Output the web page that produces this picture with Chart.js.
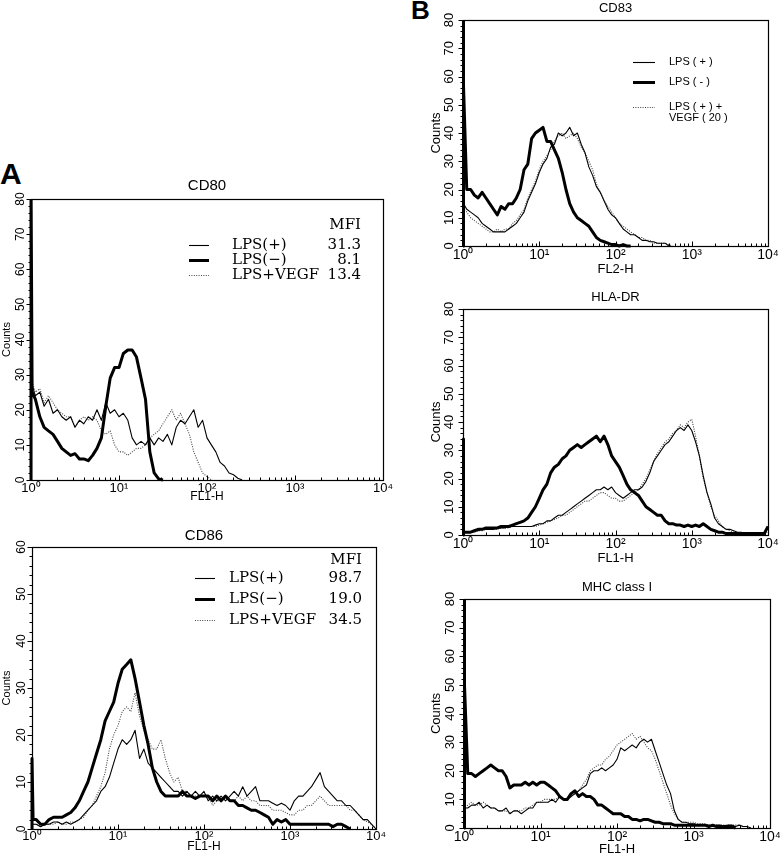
<!DOCTYPE html>
<html><head><meta charset="utf-8">
<script src="https://cdn.jsdelivr.net/npm/chart.js@4.4.1/dist/chart.umd.min.js"></script>
<style>
html,body{margin:0;padding:0;background:#fff;width:780px;height:861px;overflow:hidden;position:relative;}
canvas{position:absolute;}
.lab{position:absolute;font-family:'Liberation Sans',Arial,sans-serif;font-weight:bold;color:#000;line-height:1;}
</style></head><body>
<div class="lab" style="left:0px;top:159px;font-size:30px;">A</div>
<div class="lab" style="left:411px;top:-3px;font-size:26px;">B</div>
<canvas id="cCD80" width="398" height="335" style="left:0px;top:170px;"></canvas>
<canvas id="cCD86" width="392" height="341" style="left:0px;top:520px;"></canvas>
<canvas id="cCD83" width="382" height="280" style="left:400px;top:0px;"></canvas>
<canvas id="cHLA" width="382" height="288" style="left:400px;top:283px;"></canvas>
<canvas id="cMHC" width="384" height="288" style="left:400px;top:573px;"></canvas>
<script>
// ---------- data ----------
// first channel listed twice: the histogram baseline (0) and the first-channel count
const channels = [1, 1, 1.03, 1.12, 1.26, 1.41, 1.58, 1.78, 2, 2.24, 2.51, 2.82, 3.16, 3.55, 3.98, 4.47, 5.01, 5.62, 6.31, 7.08, 7.94, 8.91,
  10, 11.2, 12.6, 14.1, 15.8, 17.8, 20, 22.4, 25.1, 28.2, 31.6, 35.5, 39.8, 44.7, 50.1, 56.2, 63.1, 70.8, 79.4, 89.1,
  100, 112, 126, 141, 158, 178, 200, 224, 251, 282, 316, 355, 398, 447, 501, 562, 631, 708, 794, 891,
  1000, 1122, 1259, 1413, 1585, 1778, 1995, 2239, 2512, 2818, 3162, 3548, 3981, 4467, 5012, 5623, 6310, 7079, 7943, 8913,
  10000];
const decadeValues = [1, 10, 100, 1000, 10000];
const xTickLabels = ['10⁰', '10¹', '10²', '10³', '10⁴'];

const legendLabelsA = ['LPS(+)', 'LPS(−)', 'LPS+VEGF'];
const legendLabelsB = ['LPS ( + )', 'LPS ( - )', 'LPS ( + ) +\nVEGF ( 20 )'];
const cd80Mfi = ['31.3', '8.1', '13.4'];
const cd86Mfi = ['98.7', '19.0', '34.5'];

// CD80
const cd80LpsPos = [0, 28, 27,
  24, 25, 21, 23, 19, 20, 18, 17, 18, 15,
  17, 16, 18, 17, 20, 17, 22, 19, 20, 18,
  19, 17, 12, 10, 11, 10, 12, 10, 12, 11,
  13, 10, 15, 17, 16, 18, 20, 15, 17, 12,
  10, 8, 5, 4, 2, 1.5, 0.5, 0];
const cd80LpsNeg = [0, 85, 25,
  23, 18, 15, 14, 13, 11, 9, 8, 7, 7.5,
  6, 6, 5.5, 7, 9, 12, 21, 29, 32, 32,
  36, 37, 37, 35, 29, 23, 8, 2, 0.3, 0];
const cd80Vegf = [0, 29, 28,
  25, 26, 22, 24, 22, 20, 19, 18, 18, 15,
  17, 18, 17, 18, 17, 14, 13, 14, 10, 8,
  8, 7, 8, 9, 9, 10, 12, 13, 14, 16,
  18, 20, 17, 19, 16, 13, 8, 5, 2, 1,
  0];

// CD86
const cd86LpsPos = [0, 1, 1,
  1, 0.5, 1, 1, 1.5, 1.5, 1, 1.5, 1, 1.5,
  2, 3, 4, 5, 6, 8, 9, 11, 14, 17,
  19, 18, 19, 21, 15, 17, 14, 13, 12, 11,
  10, 9, 8, 8, 7, 8, 7, 8, 7, 8,
  6, 7, 6, 7, 6, 7, 8, 7, 9, 7,
  8, 9, 6, 6, 6, 5.5, 5, 5.5, 5, 4,
  6, 7, 7, 8, 9, 10.5, 12, 9, 8, 7,
  6, 6, 5, 5, 4, 3, 2, 2, 1, 0];
const cd86LpsNeg = [0, 15, 2,
  2, 1, 1, 2, 2.5, 2.5, 2.5, 3, 3.5, 4.5,
  6, 8, 10, 13, 16, 19, 23, 25, 27, 31,
  34, 35, 36, 32, 27, 22, 18, 13, 10, 8,
  7, 7, 7, 7, 8, 7, 7, 6.5, 7, 7,
  7, 6, 7, 6, 7, 6, 6, 5, 5, 4.5,
  4, 4, 3.5, 3, 2.5, 1, 2, 1.5, 2, 1,
  1, 1, 1, 1, 1, 1, 1, 1, 1, 0.5,
  1, 1, 0.5, 0];
const cd86Vegf = [0, 1, 1,
  1, 0.5, 1, 1, 1, 1.5, 1, 1, 1.5, 1.5,
  2, 2.5, 4, 5, 7, 9, 12, 17, 20, 22,
  25, 26, 25, 29, 24, 21, 19, 17, 17, 19,
  15, 12, 10, 11, 8, 8, 7, 7, 7, 7,
  7, 5, 6, 6, 7, 6, 6, 7, 6, 7,
  6, 6, 5, 5, 5, 4, 4, 4, 3.5, 3,
  3, 4, 4, 5, 5, 6, 7, 6, 5, 5,
  5, 5, 5, 4, 4, 3, 2, 1.5, 1, 0];

// CD83
const cd83LpsPos = [0, 16, 15,
  13, 12, 11, 10, 8, 7, 6, 5, 5, 5,
  5, 6, 7, 8, 10, 12, 16, 19, 22, 26,
  29, 31, 35, 36, 40, 39, 40, 42, 39, 40,
  36, 33, 28, 25, 21, 19, 16, 13, 11, 10,
  8, 6, 5, 4, 4, 3, 2, 2, 1.5, 1.5,
  1, 1, 1, 0];
const cd83LpsNeg = [0, 85, 57,
  20, 20, 18, 17, 19, 17, 15, 13, 11, 14,
  13, 15, 15, 17, 20, 27, 29, 38, 40, 41,
  42, 37, 37, 34, 31, 26, 20, 15, 12, 10,
  9, 8, 7, 5, 3, 2, 1.5, 1, 0.5, 0.5,
  0, 0.5, 0, 0];
const cd83Vegf = [0, 14, 13,
  12, 10, 9, 8, 7, 6, 5, 5, 6, 5,
  6, 6, 8, 9, 11, 13, 17, 20, 23, 27,
  30, 32, 34, 37, 39, 40, 38, 39, 40, 38,
  35, 33, 30, 27, 22, 19, 16, 14, 12, 10,
  8, 7, 6, 5, 4, 3, 3, 2, 2, 1,
  1, 1, 1, 0.5, 0];

// HLA-DR
const hlaLpsPos = [0, 20, 1,
  1, 1, 1.5, 1.5, 2, 2, 2, 2, 2.5, 2.5,
  2.5, 3, 3, 3, 3, 3, 3, 3, 3.5, 4,
  4, 5, 5, 6, 7, 7, 8, 9, 10, 11,
  12, 13, 14, 15, 16, 16, 17, 16, 17, 15,
  14, 13, 14, 15, 16, 16, 17, 19, 22, 26,
  28, 30, 32, 33, 35, 37, 38, 37, 39, 37,
  33, 28, 21, 15, 11, 6, 4, 3, 2, 2,
  1.5, 1, 1, 0.5, 0.5, 0.5, 0.5, 0.5, 0.5, 3];
const hlaLpsNeg = [0, 34, 1,
  1, 1, 1.5, 2, 2, 2.5, 2.5, 2.5, 2.5, 3,
  3, 3, 3.5, 4, 4.5, 5, 6, 8, 10, 13,
  16, 18, 22, 24, 25, 27, 28, 30, 31, 32,
  31, 32, 33, 34, 35, 33, 35, 32, 28, 26,
  24, 21, 18, 16, 15, 14, 12, 10, 9, 8,
  7, 7, 5, 4, 4, 3.5, 3.5, 3, 3.5, 3,
  3.5, 3, 4, 3, 2, 1.5, 1, 1, 0.5, 0.5,
  0.5, 0.5, 0.5, 0.5, 0.5, 0.5, 0.5, 0.5, 0.5, 3];
const hlaVegf = [0, 2, 1,
  1, 1, 1, 1.5, 1.5, 2, 2, 2, 2, 2.5,
  2.5, 2.5, 3, 3, 3, 3, 3, 3, 3, 3.5,
  4, 4.5, 5, 5.5, 6, 7, 7, 8, 9, 10,
  11, 12, 12, 13, 14, 15, 15, 14, 13, 13,
  12, 12, 13, 14, 15, 16, 18, 20, 23, 26,
  29, 31, 33, 34, 36, 37, 39, 38, 40, 41,
  35, 28, 20, 15, 10, 7, 5, 3, 2, 1.5,
  1, 0.5, 0.5, 0.5, 0.5, 0.5, 0.5, 0.5, 0.5, 1];

// MHC class I
const mhcLpsPos = [0, 8, 7,
  7, 8, 8, 9, 7, 8, 7, 7, 6, 6,
  7, 5, 6, 6, 5, 6, 7, 7, 9, 9,
  9, 9, 10, 9, 11, 10, 10, 11, 12, 13,
  14, 15, 19, 20, 20, 21, 20, 21, 22, 24,
  28, 27, 28, 29, 28, 30, 31, 30, 31, 27,
  23, 19, 15, 12, 6, 3, 2, 2, 1.5, 1.5,
  1, 1, 1, 1, 0.5, 1, 1, 0.5, 1, 1,
  0.5, 1, 0.5, 0.5, 0];
const mhcLpsNeg = [0, 85, 50,
  19, 19, 18, 19, 20, 21, 22, 21, 20, 20,
  18, 14, 15, 15, 15, 16, 15, 16, 15, 16,
  16, 15, 14, 13, 11, 10, 10, 12, 13, 11,
  12, 11, 11, 10, 8, 8, 7, 6, 5, 5,
  5, 4, 4, 3, 3, 2.5, 3, 3, 2.5, 2,
  2, 1.5, 1.5, 1.5, 1, 1, 1, 1, 1, 1,
  1, 1, 1, 0.5, 1, 0.5, 0.5, 0.5, 0.5, 0.5,
  0];
const mhcVegf = [0, 7, 7,
  8, 9, 8, 8, 9, 8, 7, 7, 6, 6,
  6, 5, 6, 6, 6, 7, 7, 8, 9, 9,
  10, 10, 10, 10, 11, 10, 10, 11, 12, 13,
  15, 17, 20, 21, 22, 22, 24, 25, 27, 29,
  30, 31, 32, 33, 31, 32, 30, 28, 27, 24,
  20, 16, 12, 8, 5, 3, 2, 2, 2, 2,
  1.5, 1.5, 1.5, 1, 1, 1, 1, 1, 1, 1,
  1, 1, 0.5, 0.5, 0];

// ---------- styles / layout ----------
const STYLE = {
  pos:  {width: 1.1, color: '#000', dash: [], order: 1},
  neg:  {width: 3, color: '#000', dash: [], order: 0},
  vegf: {width: 1.1, color: '#444', dash: [1, 1.4], order: 2}
};
const SANS = "'Liberation Sans', Arial, sans-serif";
const SERIF = "'DejaVu Serif', 'Liberation Serif', serif";

const xMinorTicks = [];
decadeValues.forEach((d, i) => {
  if (i === decadeValues.length - 1) { xMinorTicks.push(d); return; }
  for (let m = 1; m < 10; m++) xMinorTicks.push(Math.round(d * m));
});

const fcsFrame = {
  id: 'fcsFrame',
  afterDatasetsDraw(chart) {
    const {ctx, chartArea: a, scales: {x, y}} = chart;
    ctx.save();
    ctx.strokeStyle = '#000';
    ctx.lineWidth = 1.2;
    const L = Math.round(a.left) + 0.5, T = Math.round(a.top) + 0.5;
    const R = Math.round(a.right) + 0.5, B = Math.round(a.bottom) + 0.5;
    ctx.strokeRect(L, T, R - L, B - T);
    ctx.beginPath();
    ctx.lineWidth = 1;
    x.ticks.forEach(t => {
      const px = Math.round(x.getPixelForValue(t.value)) + 0.5;
      const len = decadeValues.includes(t.value) ? 5 : 3;
      ctx.moveTo(px, B); ctx.lineTo(px, B - len);
    });
    y.ticks.forEach(t => {
      const py = Math.round(y.getPixelForValue(t.value)) + 0.5;
      const len = t.value % 10 === 0 ? 5 : 3;
      ctx.moveTo(L, py); ctx.lineTo(L - len, py);
    });
    ctx.stroke();
    ctx.restore();
  }
};

const panelLegend = {
  id: 'panelLegend',
  afterDraw(chart, args, o) {
    if (!o || !o.rows) return;
    const ctx = chart.ctx, a = chart.chartArea;
    ctx.save();
    ctx.fillStyle = '#000';
    ctx.font = o.font;
    ctx.textBaseline = 'middle';
    if (o.header) {
      ctx.textAlign = 'right';
      ctx.fillText(o.header, a.left + o.valueX, a.top + o.headerY);
    }
    chart.data.datasets.forEach((ds, i) => {
      const y = a.top + o.rows[i];
      ctx.beginPath();
      ctx.lineWidth = ds.borderWidth;
      ctx.strokeStyle = ds.borderColor;
      ctx.setLineDash(ds.borderDash || []);
      ctx.moveTo(a.left + o.lineX0, Math.round(y) + 0.5);
      ctx.lineTo(a.left + o.lineX1, Math.round(y) + 0.5);
      ctx.stroke();
      ctx.setLineDash([]);
      ctx.textAlign = 'left';
      ds.label.split('\n').forEach((line, j) => {
        ctx.fillText(line, a.left + o.textX, y + j * (o.lineGap || 0));
      });
      if (o.values) {
        ctx.textAlign = 'right';
        ctx.fillText(o.values[i], a.left + o.valueX, y);
      }
    });
    ctx.restore();
  }
};

function makeDatasets(labels, pos, neg, vegf) {
  const defs = [[labels[0], pos, STYLE.pos], [labels[1], neg, STYLE.neg], [labels[2], vegf, STYLE.vegf]];
  return defs.map(([label, vals, st]) => ({
    label,
    data: vals.map((v, i) => ({x: channels[i], y: v})),
    borderColor: st.color,
    borderWidth: st.width,
    borderDash: st.dash,
    order: st.order,
    pointRadius: 0,
    tension: 0,
    fill: false,
    borderJoinStyle: 'round',
    clip: {left: 2, top: 0, right: 2, bottom: 3}
  }));
}

function makeChart(id, p) {
  const yTicks = [];
  for (let v = 0; v <= p.yMax; v += 2) yTicks.push(v);
  return new Chart(document.getElementById(id), {
    type: 'line',
    data: {datasets: p.datasets},
    options: {
      responsive: false,
      animation: false,
      devicePixelRatio: 1,
      events: [],
      layout: {padding: {left: 0, right: p.padR, top: 0, bottom: 0}},
      plugins: {
        legend: {display: false},
        tooltip: {enabled: false},
        title: {
          display: true, text: p.title, color: '#000', fullSize: false,
          font: {family: SANS, size: p.titleSize, weight: 'normal', lineHeight: 1},
          padding: {top: p.titlePt, bottom: p.titlePb}
        },
        panelLegend: p.legend || {}
      },
      scales: {
        x: {
          type: 'logarithmic', min: 1, max: 10000,
          afterBuildTicks: s => { s.ticks = xMinorTicks.map(v => ({value: v})); },
          afterFit: s => { s.height = p.xh; },
          grid: {display: false, drawTicks: false},
          border: {display: false},
          ticks: {
            autoSkip: false, minRotation: 0, maxRotation: 0, padding: p.xTickPad, color: '#000',
            font: {family: SANS, size: p.xTickSize},
            callback: v => { const i = decadeValues.indexOf(v); return i >= 0 ? xTickLabels[i] : ''; }
          },
          title: {
            display: true, text: p.xTitle, color: '#000',
            font: {family: SANS, size: p.xTitleSize},
            padding: {top: 0, bottom: p.xTitlePb}
          }
        },
        y: {
          type: 'linear', min: 0, max: p.yMax,
          afterBuildTicks: s => { s.ticks = yTicks.map(v => ({value: v})); },
          afterCalculateLabelRotation: s => { s.labelRotation = 90; },
          afterFit: s => { s.width = p.yw; },
          grid: {display: false, drawTicks: false},
          border: {display: false},
          ticks: {
            autoSkip: false, minRotation: 90, maxRotation: 90, crossAlign: 'center',
            padding: p.yTickPad, color: '#000',
            font: {family: SANS, size: p.yTickSize},
            callback: v => (v % 10 === 0 ? String(v) : '')
          },
          title: {
            display: true, text: 'Counts', color: '#000',
            font: {family: SANS, size: p.yTitleSize},
            padding: {top: p.yTitlePt, bottom: 0}
          }
        }
      }
    },
    plugins: [fcsFrame, panelLegend]
  });
}

makeChart('cCD80', {
  title: 'CD80', titleSize: 15, titlePt: 8, titlePb: 6, padR: 15, yw: 31, xh: 25, yMax: 80,
  xTitle: 'FL1-H', xTickSize: 13, xTickPad: 1, xTitleSize: 12, xTitlePb: 0.8,
  yTickSize: 12, yTickPad: 4, yTitleSize: 11, yTitlePt: 0,
  datasets: makeDatasets(legendLabelsA, cd80LpsPos, cd80LpsNeg, cd80Vegf),
  legend: {font: '15px ' + SERIF, header: 'MFI', headerY: 26, valueX: 330, lineX0: 158, lineX1: 178, textX: 201, rows: [46, 61, 76], values: cd80Mfi}
});
makeChart('cCD86', {
  title: 'CD86', titleSize: 15, titlePt: 8.5, titlePb: 3.5, padR: 16, yw: 32, xh: 32, yMax: 60,
  xTitle: 'FL1-H', xTickSize: 13, xTickPad: 0, xTitleSize: 12, xTitlePb: 6.8,
  yTickSize: 12, yTickPad: 4, yTitleSize: 11, yTitlePt: 0,
  datasets: makeDatasets(legendLabelsA, cd86LpsPos, cd86LpsNeg, cd86Vegf),
  legend: {font: '15px ' + SERIF, header: 'MFI', headerY: 13, valueX: 330, lineX0: 163, lineX1: 183, textX: 197, rows: [31, 52, 73], values: cd86Mfi}
});
makeChart('cCD83', {
  title: 'CD83', titleSize: 13, titlePt: 1.5, titlePb: 5.5, padR: 14, yw: 63, xh: 34, yMax: 80,
  xTitle: 'FL2-H', xTickSize: 14, xTickPad: 1, xTitleSize: 13, xTitlePb: 3.2,
  yTickSize: 13, yTickPad: 6, yTitleSize: 13, yTitlePt: 29,
  datasets: makeDatasets(legendLabelsB, cd83LpsPos, cd83LpsNeg, cd83Vegf),
  legend: {font: '11px ' + SANS, lineX0: 170, lineX1: 192, textX: 206, rows: [42, 62, 87], lineGap: 11}
});
makeChart('cHLA', {
  title: 'HLA-DR', titleSize: 13, titlePt: 7.5, titlePb: 5.5, padR: 14, yw: 63, xh: 36, yMax: 80,
  xTitle: 'FL1-H', xTickSize: 14, xTickPad: 1, xTitleSize: 13, xTitlePb: 5.2,
  yTickSize: 13, yTickPad: 6, yTitleSize: 13, yTitlePt: 29,
  datasets: makeDatasets(legendLabelsB, hlaLpsPos, hlaLpsNeg, hlaVegf)
});
makeChart('cMHC', {
  title: 'MHC class I', titleSize: 13, titlePt: 7.5, titlePb: 5.5, padR: 14, yw: 64, xh: 33, yMax: 80,
  xTitle: 'FL1-H', xTickSize: 14, xTickPad: 1, xTitleSize: 13, xTitlePb: 4.2,
  yTickSize: 13, yTickPad: 6, yTitleSize: 13, yTitlePt: 29,
  datasets: makeDatasets(legendLabelsB, mhcLpsPos, mhcLpsNeg, mhcVegf)
});
</script>
</body></html>
